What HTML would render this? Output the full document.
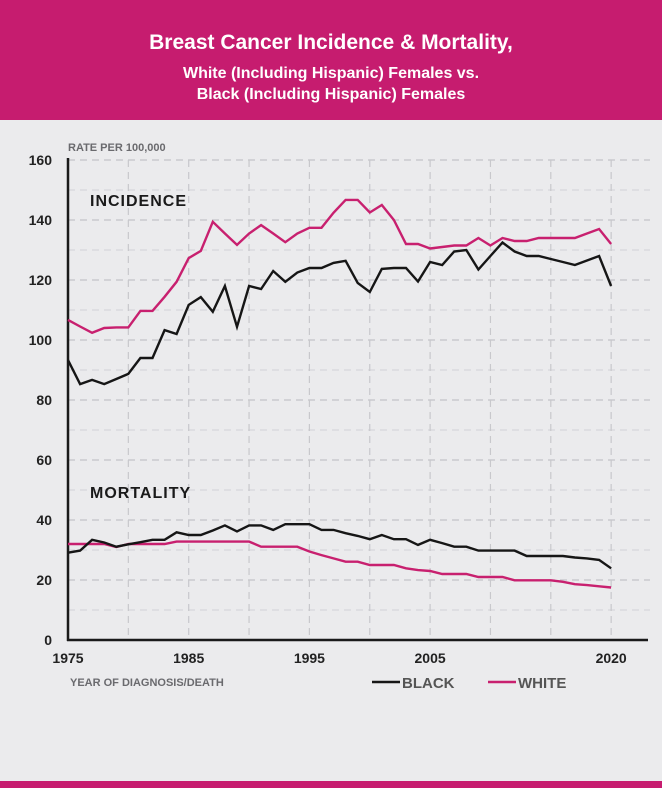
<!DOCTYPE html>
<html><head><meta charset="utf-8">
<style>
html,body{margin:0;padding:0;}
body{width:662px;height:788px;background:#ebebed;font-family:"Liberation Sans",sans-serif;position:relative;overflow:hidden;}
#hdr{position:absolute;left:0;top:0;width:662px;height:120px;background:#c61c6f;color:#fff;text-align:center;}
#t1{position:absolute;top:31px;width:100%;font-size:21px;font-weight:bold;}
#t2{position:absolute;top:63px;width:100%;font-size:16px;font-weight:bold;line-height:21px;}
#foot{position:absolute;left:0;top:781px;width:662px;height:7px;background:#c61c6f;}
svg{position:absolute;left:0;top:0;}
</style></head>
<body>
<div id="hdr">
<div id="t1">Breast Cancer Incidence &amp; Mortality,</div>
<div id="t2">White (Including Hispanic) Females vs.<br>Black (Including Hispanic) Females</div>
</div>
<div id="foot"></div>
<svg id="chart" width="662" height="788"></svg>
<script>
const years = [];
for (let y = 1975; y <= 2020; y++) years.push(y);
const yTicks = [0,20,40,60,80,100,120,140,160];
const xTickLabels = [1975,1985,1995,2005,2020];
const xGridYears = [1980,1985,1990,1995,2000,2005,2010,2015,2020];
const whiteIncidence = [106.7,104.5,102.4,104,104.2,104.2,109.7,109.7,114.4,119.4,127.3,129.7,139.4,135.5,131.7,135.5,138.3,135.5,132.6,135.5,137.4,137.4,142.4,146.7,146.7,142.5,145,140,132,132,130.5,131,131.5,131.5,134,131.5,134,133,133,134,134,134,134,135.5,137,132];
const blackIncidence = [93.3,85.3,86.7,85.3,87,88.7,94,94,103.3,102,111.7,114.3,109.4,118,104.4,118,117,123,119.4,122.5,124,124,125.7,126.4,119,116,123.7,124,124,119.5,126,125,129.5,130,123.5,128,132.5,129.5,128,128,127,126,125,126.5,128,118];
const blackMortality = [29.1,29.8,33.4,32.5,31.1,31.9,32.6,33.4,33.4,35.9,35,35,36.5,38.2,36.2,38.2,38.2,36.7,38.6,38.6,38.6,36.7,36.7,35.6,34.7,33.6,35,33.6,33.6,31.7,33.4,32.3,31.1,31.1,29.8,29.8,29.8,29.8,28,28,28,28,27.5,27.2,26.7,23.9];
const whiteMortality = [32,32,32,32,31,32,32,32,32,32.8,32.8,32.8,32.8,32.8,32.8,32.8,31.1,31.1,31.1,31.1,29.5,28.3,27.2,26.1,26.1,25,25,25,23.9,23.3,23,22,22,22,21,21,21,19.9,19.9,19.9,19.9,19.4,18.6,18.3,17.9,17.5];

const svg = document.getElementById('chart');
const NS = 'http://www.w3.org/2000/svg';
const X0 = 68, PXY = 12.07, Y0 = 640, PXV = 3;
const sx = y => X0 + (y - 1975) * PXY;
const sy = v => Y0 - v * PXV;
function mk(tag, attrs, txt) {
  const e = document.createElementNS(NS, tag);
  for (const k in attrs) e.setAttribute(k, attrs[k]);
  if (txt !== undefined) e.textContent = txt;
  svg.appendChild(e);
  return e;
}
// grid
yTicks.forEach(v => {
  if (v === 0) return;
  const g = mk('line', {x1: X0, x2: 650, y1: sy(v), y2: sy(v), stroke: '#c4c4c8', 'stroke-width': 1.2, 'stroke-dasharray': '7,5'});
  
  
  g.setAttribute('data-pos', v);
  for (let k = 1; k < 2; k++) {}
});
// minor horizontal lines every 10
[10,30,50,70,90,110,130,150].forEach(v => {
  const g = mk('line', {x1: X0, x2: 650, y1: sy(v), y2: sy(v), stroke: '#d2d2d6', 'stroke-width': 1, 'stroke-dasharray': '7,5'});
  
  
});
xGridYears.forEach(yr => {
  const g = mk('line', {x1: sx(yr), x2: sx(yr), y1: sy(160), y2: Y0, stroke: '#c8c8cc', 'stroke-width': 1.2, 'stroke-dasharray': '7,5'});
  
  
});
// axes
const ya = mk('line', {x1: X0, x2: X0, y1: sy(160) - 2, y2: Y0 + 1, stroke: '#1a1a1a', 'stroke-width': 2.5});


const xa = mk('line', {x1: X0 - 1, x2: 648, y1: Y0, y2: Y0, stroke: '#1a1a1a', 'stroke-width': 2.5});


// tick labels
yTicks.forEach(v => {
  const t = mk('text', {x: 52, y: sy(v) + 5, 'text-anchor': 'end', 'font-size': 14, 'font-weight': 'bold', fill: '#222'}, String(v));
  
  
});
xTickLabels.forEach(yr => {
  const t = mk('text', {x: sx(yr), y: 663, 'text-anchor': 'middle', 'font-size': 14, 'font-weight': 'bold', fill: '#222'}, String(yr));
  
  
});
// titles
const yt = mk('text', {x: 68, y: 151, 'font-size': 11, 'font-weight': 'bold', fill: '#6a6a6e'}, 'RATE PER 100,000');


const xt = mk('text', {x: 70, y: 686, 'font-size': 11, 'font-weight': 'bold', fill: '#6a6a6e'}, 'YEAR OF DIAGNOSIS/DEATH');


const il = mk('text', {x: 90, y: 206, 'font-size': 16, 'font-weight': 'bold', fill: '#1a1a1a', 'letter-spacing': 1}, 'INCIDENCE');


const ml = mk('text', {x: 90, y: 498, 'font-size': 16, 'font-weight': 'bold', fill: '#1a1a1a', 'letter-spacing': 1}, 'MORTALITY');


// series
function line(vals, color, name) {
  const d = vals.map((v, i) => (i ? 'L' : 'M') + sx(years[i]).toFixed(1) + ',' + sy(v).toFixed(1)).join(' ');
  const p = mk('path', {d: d, fill: 'none', stroke: color, 'stroke-width': 2.4, 'stroke-linejoin': 'miter'});
  
  
}
const PINK = '#c8206f', BLK = '#161616';
line(whiteMortality, PINK, 'white-mortality-line');
line(blackMortality, BLK, 'black-mortality-line');
line(whiteIncidence, PINK, 'white-incidence-line');
line(blackIncidence, BLK, 'black-incidence-line');
// legend
const lb = mk('line', {x1: 372, x2: 400, y1: 682, y2: 682, stroke: BLK, 'stroke-width': 2.5});


const tb = mk('text', {x: 402, y: 688, 'font-size': 15, 'font-weight': 'bold', fill: '#555'}, 'BLACK');


const lw = mk('line', {x1: 488, x2: 516, y1: 682, y2: 682, stroke: PINK, 'stroke-width': 2.5});


const tw = mk('text', {x: 518, y: 688, 'font-size': 15, 'font-weight': 'bold', fill: '#555'}, 'WHITE');


</script>
</body></html>
